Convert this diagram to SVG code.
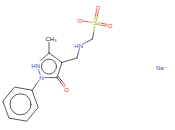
<svg xmlns="http://www.w3.org/2000/svg" width="175" height="130" viewBox="0 0 175 130">
<style>
.b{stroke:#222;stroke-width:0.75;fill:none;stroke-linecap:round}
.n{stroke:#4444bb}
.o{stroke:#e03030}
.s{stroke:#aaa000}
text{font-family:"Liberation Sans",Arial,sans-serif;font-size:6px}
.tn{fill:#4444bb}
.to{fill:#e03030}
.ts{fill:#aaa000}
.tc{fill:#222}
</style>
<rect width="175" height="130" fill="#fff"/>
<g id="connectors">
<!-- pyrazolone ring -->
<line class="b" x1="49" y1="53" x2="61.9" y2="62.4"/>
<line class="b" x1="61.9" y1="62.4" x2="57" y2="77.6"/>
<line class="b" x1="57" y1="77.6" x2="50" y2="77.6"/>
<line class="b n" x1="50" y1="77.6" x2="44" y2="77.6"/>
<line class="b n" x1="40.2" y1="74.8" x2="38.6" y2="69.5"/>
<line class="b n" x1="40" y1="60.6" x2="43" y2="58.5"/>
<line class="b" x1="43" y1="58.5" x2="49" y2="53"/>
<circle class="b" cx="49" cy="66.6" r="7.5"/>
<!-- methyl -->
<line class="b" x1="49" y1="53" x2="49" y2="42.5"/>
<!-- carbonyl -->
<line class="b" x1="57" y1="77.6" x2="60.8" y2="82.6"/>
<line class="b o" x1="60.8" y1="82.6" x2="64.2" y2="87.1"/>
<line class="b" x1="58.4" y1="76.5" x2="62.2" y2="81.5"/>
<line class="b o" x1="62.2" y1="81.5" x2="65.6" y2="86"/>
<!-- N2 to phenyl -->
<line class="b n" x1="39.3" y1="80.1" x2="35.8" y2="85"/>
<line class="b" x1="35.8" y1="85" x2="32" y2="90.5"/>
<!-- phenyl -->
<polygon class="b" points="32,90.5 38.2,107.4 26.7,121.2 9,118.1 2.8,101.2 14.3,87.4"/>
<circle class="b" cx="20.5" cy="104.3" r="10.5"/>
<!-- CH2 and amine -->
<line class="b" x1="61.9" y1="62.4" x2="77" y2="58"/>
<line class="b" x1="77" y1="58" x2="78.2" y2="53.5"/>
<line class="b n" x1="78.2" y1="53.5" x2="79.4" y2="48.5"/>
<line class="b n" x1="83" y1="44" x2="87.6" y2="41.6"/>
<line class="b" x1="87.6" y1="41.6" x2="92.5" y2="39"/>
<!-- sulfonate -->
<line class="b" x1="92.5" y1="39" x2="93.6" y2="32.6"/>
<line class="b s" x1="93.6" y1="32.6" x2="94.6" y2="26.4"/>
<line class="b s" x1="92.2" y1="22.6" x2="87.6" y2="21.8"/>
<line class="b o" x1="87.6" y1="21.8" x2="82.8" y2="20.9"/>
<line class="b s" x1="96.6" y1="20.3" x2="97.4" y2="15.6"/>
<line class="b o" x1="97.4" y1="15.6" x2="98.3" y2="11"/>
<line class="b s" x1="94.8" y1="19.9" x2="95.6" y2="15.3"/>
<line class="b o" x1="95.6" y1="15.3" x2="96.5" y2="10.6"/>
<line class="b s" x1="98" y1="22.7" x2="102.5" y2="23.5"/>
<line class="b o" x1="102.5" y1="23.5" x2="107" y2="24.3"/>
<line class="b s" x1="97.7" y1="24.5" x2="102.2" y2="25.3"/>
<line class="b o" x1="102.2" y1="25.3" x2="106.7" y2="26.1"/>
</g>
<g id="CH3"><text class="tc" x="45.5" y="41" font-size="5.5">CH<tspan font-size="4" dy="1">3</tspan></text></g>
<g id="N1"><text class="tn" x="40" y="67.6" text-anchor="end">HN</text></g>
<g id="N2"><text class="tn" x="41.3" y="80" text-anchor="middle">N</text></g>
<g id="O1"><text class="to" x="66.6" y="91.8" text-anchor="middle">O</text></g>
<g id="NH"><text class="tn" x="83" y="47.6" text-anchor="end">HN</text></g>
<g id="S"><text class="ts" x="95.2" y="25.4" text-anchor="middle">S</text></g>
<g id="Ominus"><text class="to" x="82.4" y="22.5" text-anchor="end"><tspan font-size="4" dy="-2">−</tspan><tspan dy="2">O</tspan></text></g>
<g id="Otop"><text class="to" x="98" y="9.8" text-anchor="middle">O</text></g>
<g id="Oright"><text class="to" x="110.2" y="27.8" text-anchor="middle">O</text></g>
<g id="Na"><text class="tn" x="161" y="70" text-anchor="middle">Na<tspan font-size="4" dy="-2">+</tspan></text></g>
</svg>
